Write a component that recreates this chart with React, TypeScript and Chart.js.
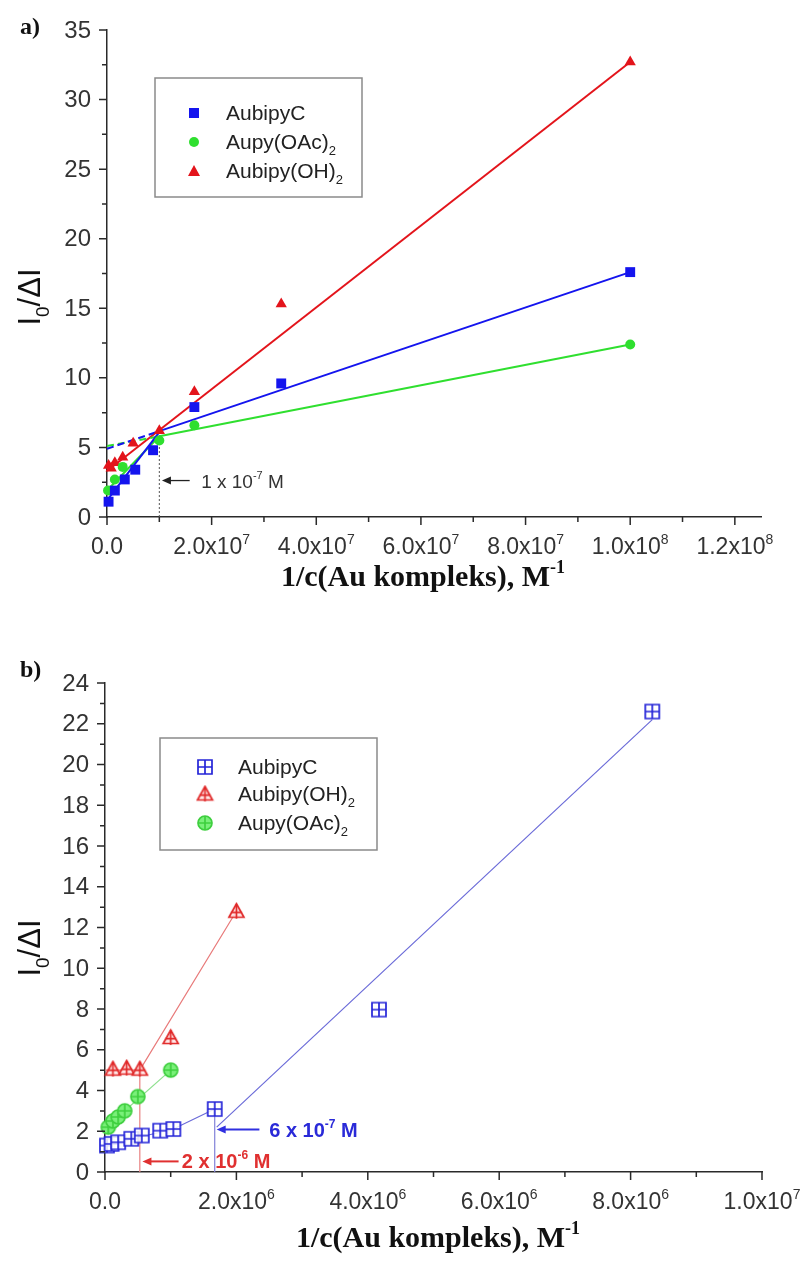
import React, { useEffect, useRef } from 'react';
import { Chart, registerables } from 'chart.js';
Chart.register(...registerables);

// ---------------- Panel a data ----------------
const aBlueX = [0.3e6, 1.5e6, 3.4e6, 5.4e6, 8.8e6, 1.67e7, 3.33e7, 1e8];
const aBlueY = [1.1, 1.9, 2.7, 3.4, 4.8, 7.9, 9.6, 17.6];
const aGreenX = [0.2e6, 1.5e6, 3.0e6, 1e7, 1.67e7, 1e8];
const aGreenY = [1.9, 2.7, 3.6, 5.5, 6.6, 12.4];
const aRedX = [0.3e6, 0.8e6, 1.5e6, 3e6, 5e6, 1e7, 1.67e7, 3.33e7, 1e8];
const aRedY = [3.7, 3.5, 3.9, 4.3, 5.3, 6.2, 9.0, 15.3, 32.7];
// fitted lines (panel a)
const aBlueSteepX = [0, 1e7];
const aBlueSteepY = [1.2, 6.1];
const aBlueDashX = [0, 1e7];
const aBlueDashY = [4.9, 6.17];
const aBlueShallowX = [1e7, 1e8];
const aBlueShallowY = [6.17, 17.6];
const aGreenSteepX = [0, 1e7];
const aGreenSteepY = [1.9, 5.8];
const aGreenDashX = [0, 1e7];
const aGreenDashY = [5.1, 5.8];
const aGreenShallowX = [1e7, 1e8];
const aGreenShallowY = [5.8, 12.4];
const aRedLineX = [0, 1e8];
const aRedLineY = [3.3, 32.7];
const aMarkX = [1e7, 1e7];
const aMarkY = [0, 6.0];

const aXTicks = [0, 2e7, 4e7, 6e7, 8e7, 1e8, 1.2e8];
const aXTickMant = ['0.0', '2.0x10', '4.0x10', '6.0x10', '8.0x10', '1.0x10', '1.2x10'];
const aXTickExp = ['', '7', '7', '7', '7', '8', '8'];
const aXMinor = [1e7, 3e7, 5e7, 7e7, 9e7, 1.1e8];
const aYTicks = [0, 5, 10, 15, 20, 25, 30, 35];
const aYMinor = [2.5, 7.5, 12.5, 17.5, 22.5, 27.5, 32.5];
const aLegend = ['AubipyC', 'Aupy(OAc)', 'Aubipy(OH)'];

// ---------------- Panel b data ----------------
const bBlueX = [0.03e6, 0.1e6, 0.2e6, 0.4e6, 0.56e6, 0.84e6, 1.04e6, 1.67e6, 4.17e6, 8.33e6];
const bBlueY = [1.3, 1.38, 1.46, 1.63, 1.79, 2.03, 2.11, 3.09, 7.97, 22.6];
const bRedX = [0.12e6, 0.33e6, 0.53e6, 1.0e6, 2.0e6];
const bRedY = [5.05, 5.1, 5.05, 6.6, 12.8];
const bGreenX = [0.05e6, 0.12e6, 0.2e6, 0.3e6, 0.5e6, 1.0e6];
const bGreenY = [2.2, 2.5, 2.7, 3.0, 3.7, 5.0];
const bBlueLine1X = [0, 1.04e6, 1.67e6];
const bBlueLine1Y = [1.3, 2.11, 3.09];
const bBlueLine2X = [1.7e6, 8.33e6];
const bBlueLine2Y = [2.2, 22.2];
const bRedLineX = [0, 0.53e6, 2.0e6];
const bRedLineY = [5.0, 5.0, 12.8];
const bGreenLineX = [0, 1.0e6];
const bGreenLineY = [2.15, 5.0];
const bBlueMarkX = [1.67e6, 1.67e6];
const bBlueMarkY = [0, 3.0];
const bRedMarkX = [0.53e6, 0.53e6];
const bRedMarkY = [0, 5.0];

const bXTicks = [0, 2e6, 4e6, 6e6, 8e6, 1e7];
const bXTickMant = ['0.0', '2.0x10', '4.0x10', '6.0x10', '8.0x10', '1.0x10'];
const bXTickExp = ['', '6', '6', '6', '6', '7'];
const bXMinor = [1e6, 3e6, 5e6, 7e6, 9e6];
const bYTicks = [0, 2, 4, 6, 8, 10, 12, 14, 16, 18, 20, 22, 24];
const bYMinor = [1, 3, 5, 7, 9, 11, 13, 15, 17, 19, 21, 23];
const bLegend = ['AubipyC', 'Aubipy(OH)', 'Aupy(OAc)'];

const zip = (xs: number[], ys: number[]) => xs.map((x, i) => ({ x, y: ys[i] }));

const SANS = '"Liberation Sans", Arial, sans-serif';
const SERIF = '"Liberation Serif", "Times New Roman", serif';

type Part = { t: string; sub?: boolean; sup?: boolean };
function drawRich(ctx: CanvasRenderingContext2D, parts: Part[], x: number, y: number, size: number, family: string, weight: string, align: 'left' | 'center') {
  const small = Math.round(size * 0.6);
  const fnt = (p: Part) => `${weight} ${p.sub || p.sup ? small : size}px ${family}`;
  const widths = parts.map((p) => { ctx.font = fnt(p); return ctx.measureText(p.t).width; });
  const total = widths.reduce((a, b) => a + b, 0);
  let cx = align === 'center' ? x - total / 2 : x;
  ctx.textAlign = 'left';
  ctx.textBaseline = 'alphabetic';
  parts.forEach((p, i) => {
    ctx.font = fnt(p);
    const dy = p.sup ? -size * 0.45 : p.sub ? size * 0.28 : 0;
    ctx.fillText(p.t, cx, y + dy);
    cx += widths[i];
  });
}

function arrow(ctx: CanvasRenderingContext2D, x0: number, x1: number, y: number, color: string, lw: number) {
  ctx.save();
  ctx.strokeStyle = color; ctx.fillStyle = color; ctx.lineWidth = lw;
  ctx.beginPath(); ctx.moveTo(x0, y); ctx.lineTo(x1 + 6, y); ctx.stroke();
  ctx.beginPath(); ctx.moveTo(x1, y); ctx.lineTo(x1 + 9, y - 4); ctx.lineTo(x1 + 9, y + 4); ctx.closePath(); ctx.fill();
  ctx.restore();
}

function makeMarker(kind: 'sq' | 'tri' | 'circ', color: string, fill: string, size: number) {
  const c = document.createElement('canvas');
  c.width = size + 4; c.height = size + 4;
  const g = c.getContext('2d')!;
  const m = (size + 4) / 2; const h = size / 2;
  g.lineWidth = 1.7; g.strokeStyle = color; g.fillStyle = fill;
  g.beginPath();
  if (kind === 'sq') g.rect(m - h, m - h, size, size);
  else if (kind === 'circ') g.arc(m, m, h, 0, Math.PI * 2);
  else { g.moveTo(m, m - h); g.lineTo(m + h, m + h * 0.8); g.lineTo(m - h, m + h * 0.8); g.closePath(); }
  g.fill(); g.stroke();
  g.beginPath();
  if (kind === 'tri') {
    g.moveTo(m, m - h); g.lineTo(m, m + h);
    g.moveTo(m - h * 0.75, m + h * 0.15); g.lineTo(m + h * 0.75, m + h * 0.15);
  } else {
    g.moveTo(m, m - h); g.lineTo(m, m + h);
    g.moveTo(m - h, m); g.lineTo(m + h, m);
  }
  g.stroke();
  return c;
}

function axesPlugin(o: any) {
  return {
    id: 'decor' + o.name,
    afterDraw(chart: any) {
      const ctx: CanvasRenderingContext2D = chart.ctx;
      const xs = chart.scales.x, ys = chart.scales.y;
      const { left, bottom } = chart.chartArea;
      ctx.save();
      ctx.strokeStyle = '#2a2a2a'; ctx.lineWidth = 1.5;
      ctx.beginPath();
      o.xTicks.forEach((v: number) => { const p = xs.getPixelForValue(v); ctx.moveTo(p, bottom); ctx.lineTo(p, bottom + 8); });
      o.xMinor.forEach((v: number) => { const p = xs.getPixelForValue(v); ctx.moveTo(p, bottom); ctx.lineTo(p, bottom + 5); });
      o.yTicks.forEach((v: number) => { const p = ys.getPixelForValue(v); ctx.moveTo(left, p); ctx.lineTo(left - 8, p); });
      o.yMinor.forEach((v: number) => { const p = ys.getPixelForValue(v); ctx.moveTo(left, p); ctx.lineTo(left - 5, p); });
      ctx.stroke();
      ctx.fillStyle = '#333';
      o.xTicks.forEach((v: number, i: number) => {
        const parts: Part[] = [{ t: o.xMant[i] }];
        if (o.xExp[i]) parts.push({ t: o.xExp[i], sup: true });
        drawRich(ctx, parts, xs.getPixelForValue(v), bottom + o.xLabelDy, 23, SANS, 'normal', 'center');
      });
      ctx.font = `24px ${SANS}`; ctx.textAlign = 'right'; ctx.textBaseline = 'middle';
      o.yTicks.forEach((v: number) => { ctx.fillText(String(v), left - 16, ys.getPixelForValue(v) + 1); });
      // axis titles
      ctx.fillStyle = '#111';
      drawRich(ctx, [{ t: '1/c(Au kompleks), M' }, { t: '-1', sup: true }], o.xTitleX, o.xTitleY, 30, SERIF, 'bold', 'center');
      ctx.save();
      ctx.translate(o.yTitleX, o.yTitleY); ctx.rotate(-Math.PI / 2);
      drawRich(ctx, [{ t: 'I' }, { t: '0', sub: true }, { t: '/ΔI' }], 0, 0, 31, SANS, 'normal', 'center');
      ctx.restore();
      // panel label
      ctx.font = `bold 24px ${SERIF}`; ctx.textAlign = 'left'; ctx.textBaseline = 'alphabetic';
      ctx.fillText(o.panel, o.panelX, o.panelY);
      // legend
      const L = o.legend;
      ctx.strokeStyle = '#8a8a8a'; ctx.lineWidth = 1.5;
      ctx.strokeRect(L.x, L.y, L.w, L.h);
      L.items.forEach((it: any) => {
        it.draw(ctx, L.mx, it.y);
        ctx.fillStyle = '#222';
        drawRich(ctx, it.sub ? [{ t: it.label }, { t: '2', sub: true }] : [{ t: it.label }], L.tx, it.y + 7, 21, SANS, 'normal', 'left');
      });
      // annotations
      o.annot(ctx, xs, ys);
      ctx.restore();
    },
  };
}

function makeChart(canvas: HTMLCanvasElement, datasets: any[], xr: [number, number], yr: [number, number], pad: any, plugin: any) {
  return new Chart(canvas, {
    type: 'scatter',
    data: { datasets },
    options: {
      responsive: false,
      animation: false,
      devicePixelRatio: 1,
      layout: { padding: pad },
      plugins: { legend: { display: false }, tooltip: { enabled: false } },
      scales: {
        x: { type: 'linear', min: xr[0], max: xr[1], ticks: { display: false }, grid: { display: false, drawTicks: false }, border: { display: true, color: '#2a2a2a', width: 1.5 } },
        y: { type: 'linear', min: yr[0], max: yr[1], ticks: { display: false }, grid: { display: false, drawTicks: false }, border: { display: true, color: '#2a2a2a', width: 1.5 } },
      },
    },
    plugins: [plugin],
  });
}

const pts = (xs: number[], ys: number[], style: any, color: string, radius: number) => ({
  data: zip(xs, ys), pointStyle: style, pointRadius: radius, backgroundColor: color, borderColor: color, borderWidth: 0, showLine: false, clip: false,
});
const line = (xs: number[], ys: number[], color: string, width: number, dash: number[] = []) => ({
  data: zip(xs, ys), showLine: true, pointRadius: 0, borderColor: color, borderWidth: width, borderDash: dash, clip: false,
});

export default function App() {
  const refA = useRef<HTMLCanvasElement>(null);
  const refB = useRef<HTMLCanvasElement>(null);
  useEffect(() => {
    const BLUE = '#1414ee', GREEN = '#2fdf2f', RED = '#e3141b';
    const pa = axesPlugin({
      name: 'a', xTicks: aXTicks, xMant: aXTickMant, xExp: aXTickExp, xMinor: aXMinor, yTicks: aYTicks, yMinor: aYMinor,
      xLabelDy: 37, xTitleX: 415, xTitleY: 578, yTitleX: 32, yTitleY: 289, panel: 'a)', panelX: 12, panelY: 26,
      legend: {
        x: 147, y: 70, w: 207, h: 119, mx: 186, tx: 218,
        items: [
          { label: aLegend[0], y: 105, draw: (c: any, x: number, y: number) => { c.fillStyle = BLUE; c.fillRect(x - 5, y - 5, 10, 10); } },
          { label: aLegend[1], sub: true, y: 134, draw: (c: any, x: number, y: number) => { c.fillStyle = GREEN; c.beginPath(); c.arc(x, y, 5, 0, Math.PI * 2); c.fill(); } },
          { label: aLegend[2], sub: true, y: 163, draw: (c: any, x: number, y: number) => { c.fillStyle = RED; c.beginPath(); c.moveTo(x, y - 6); c.lineTo(x + 6, y + 5); c.lineTo(x - 6, y + 5); c.closePath(); c.fill(); } },
        ],
      },
      annot: (ctx: CanvasRenderingContext2D, xs: any, ys: any) => {
        const y = ys.getPixelForValue(2.62);
        arrow(ctx, xs.getPixelForValue(1.58e7), xs.getPixelForValue(1.05e7), y, '#222', 1.3);
        ctx.fillStyle = '#333';
        drawRich(ctx, [{ t: '1 x 10' }, { t: '-7', sup: true }, { t: ' M' }], xs.getPixelForValue(1.8e7), y + 7, 19, SANS, 'normal', 'left');
      },
    });
    const chA = makeChart(refA.current!, [
      pts(aBlueX, aBlueY, 'rect', BLUE, 7),
      pts(aGreenX, aGreenY, 'circle', GREEN, 5),
      pts(aRedX, aRedY, 'triangle', RED, 6.5),
      line(aBlueSteepX, aBlueSteepY, BLUE, 2),
      line(aBlueDashX, aBlueDashY, BLUE, 2, [7, 4]),
      line(aBlueShallowX, aBlueShallowY, BLUE, 2),
      line(aGreenSteepX, aGreenSteepY, GREEN, 2),
      line(aGreenDashX, aGreenDashY, GREEN, 2, [7, 4]),
      line(aGreenShallowX, aGreenShallowY, GREEN, 2),
      line(aRedLineX, aRedLineY, RED, 2),
      line(aMarkX, aMarkY, '#555', 1, [2, 2]),
    ], [0, 1.25e8], [0, 35], { left: 99, right: 40, top: 22, bottom: 103 }, pa);

    const mSq = makeMarker('sq', '#2424d8', 'rgba(255,255,255,0.85)', 14);
    const mTri = makeMarker('tri', '#e02828', 'rgba(255,230,230,0.9)', 15);
    const mCirc = makeMarker('circ', '#3fcf3f', '#7af07a', 14);
    const pb = axesPlugin({
      name: 'b', xTicks: bXTicks, xMant: bXTickMant, xExp: bXTickExp, xMinor: bXMinor, yTicks: bYTicks, yMinor: bYMinor,
      xLabelDy: 37, xTitleX: 430, xTitleY: 627, yTitleX: 32, yTitleY: 328, panel: 'b)', panelX: 12, panelY: 57,
      legend: {
        x: 152, y: 118, w: 217, h: 112, mx: 197, tx: 230,
        items: [
          { label: bLegend[0], y: 147, draw: (c: any, x: number, y: number) => c.drawImage(mSq, x - mSq.width / 2, y - mSq.height / 2) },
          { label: bLegend[1], sub: true, y: 174, draw: (c: any, x: number, y: number) => c.drawImage(mTri, x - mTri.width / 2, y - mTri.height / 2) },
          { label: bLegend[2], sub: true, y: 203, draw: (c: any, x: number, y: number) => c.drawImage(mCirc, x - mCirc.width / 2, y - mCirc.height / 2) },
        ],
      },
      annot: (ctx: CanvasRenderingContext2D, xs: any, ys: any) => {
        const yb = ys.getPixelForValue(2.08);
        arrow(ctx, xs.getPixelForValue(2.35e6), xs.getPixelForValue(1.7e6), yb, '#3030e0', 2);
        ctx.fillStyle = '#2a2ad8';
        drawRich(ctx, [{ t: '6 x 10' }, { t: '-7', sup: true }, { t: ' M' }], xs.getPixelForValue(2.5e6), yb + 7, 20, SANS, 'bold', 'left');
        const yr = ys.getPixelForValue(0.52);
        arrow(ctx, xs.getPixelForValue(1.12e6), xs.getPixelForValue(0.57e6), yr, '#e03030', 2);
        ctx.fillStyle = '#e03030';
        drawRich(ctx, [{ t: '2 x 10' }, { t: '-6', sup: true }, { t: ' M' }], xs.getPixelForValue(1.17e6), yr + 7, 20, SANS, 'bold', 'left');
      },
    });
    const chB = makeChart(refB.current!, [
      pts(bBlueX, bBlueY, mSq, '#2424d8', 8),
      pts(bRedX, bRedY, mTri, '#e02828', 8),
      pts(bGreenX, bGreenY, mCirc, '#3fcf3f', 8),
      line(bBlueLine1X, bBlueLine1Y, '#6a6ad8', 1.2),
      line(bBlueLine2X, bBlueLine2Y, '#6a6ad8', 1.2),
      line(bRedLineX, bRedLineY, '#e87a7a', 1.2),
      line(bGreenLineX, bGreenLineY, '#8ee08e', 1.2),
      line(bBlueMarkX, bBlueMarkY, '#8080d8', 1.2),
      line(bRedMarkX, bRedMarkY, '#e88080', 1.2),
    ], [0, 1e7], [0, 24], { left: 97, right: 39, top: 63, bottom: 94 }, pb);
    return () => { chA.destroy(); chB.destroy(); };
  }, []);
  return (
    <div style={{ width: 793 }}>
      <canvas ref={refA} width={793} height={612} style={{ display: 'block' }} />
      <canvas ref={refB} width={793} height={646} style={{ display: 'block' }} />
    </div>
  );
}
